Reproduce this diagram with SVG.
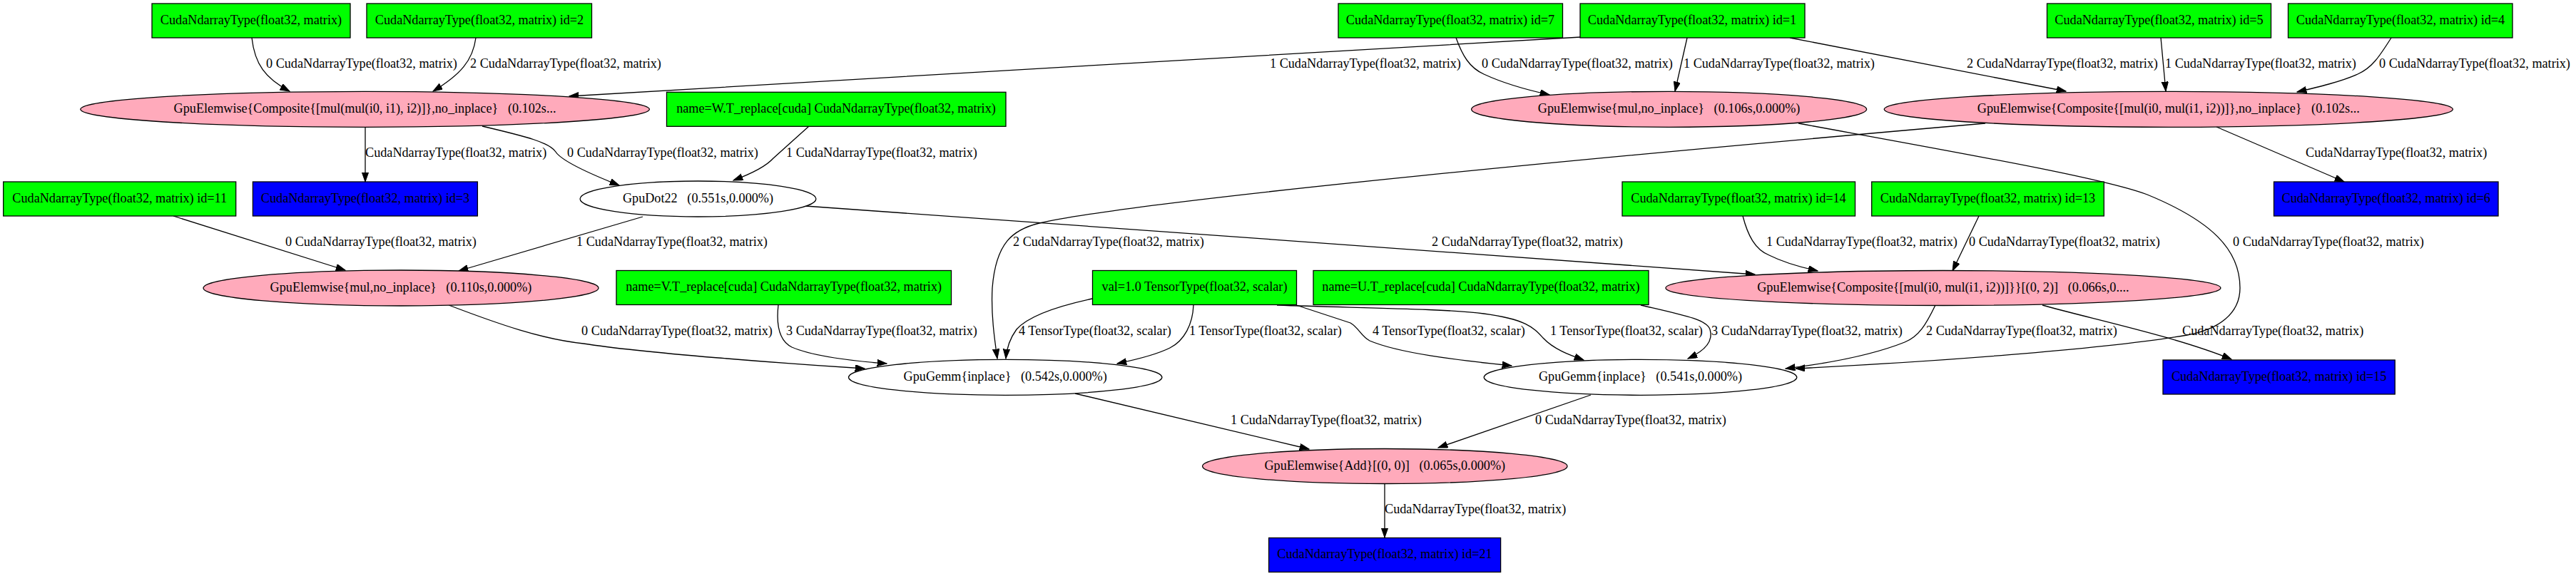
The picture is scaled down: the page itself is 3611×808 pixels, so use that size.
<svg xmlns="http://www.w3.org/2000/svg" width="3611" height="808" viewBox="0 0 3611 808">
<style>
text{font-family:"Liberation Serif","Times New Roman",serif;font-size:18.2px;fill:#000;white-space:pre}
.node text{text-anchor:middle}
.in rect{fill:#00ff00;stroke:#000;stroke-width:1.3}
.out rect{fill:#0000ff;stroke:#000;stroke-width:1.3}
.ew ellipse{fill:#ffaabb;stroke:#000;stroke-width:1.3}
.op ellipse{fill:#ffffff;stroke:#000;stroke-width:1.3}
#edges path{fill:none;stroke:#000;stroke-width:1.3;marker-end:url(#ah)}
</style>
<defs>
<marker id="ah" markerUnits="userSpaceOnUse" markerWidth="15" markerHeight="11" refX="13.3" refY="4.67" orient="auto">
<path d="M0,0 L13.3,4.67 L0,9.33 z" fill="#000" stroke="#000" stroke-width="1"/>
</marker>
</defs>
<rect width="3611" height="808" fill="#fff"/>
<g id="edges">
<g><path d="M353,53 C357,90 372,110 406,128"/><text x="373" y="95">0 CudaNdarrayType(float32, matrix)</text></g>
<g><path d="M667,53 C663,85 645,105 607,128"/><text x="659" y="95">2 CudaNdarrayType(float32, matrix)</text></g>
<g><path d="M2216,52 C1800,76 1200,111 798,135"/><text x="1780" y="95">1 CudaNdarrayType(float32, matrix)</text></g>
<g><path d="M2041,53 C2050,78 2060,95 2080,104 C2110,118 2140,126 2172,133"/><text x="2077" y="95">0 CudaNdarrayType(float32, matrix)</text></g>
<g><path d="M2365,53 L2348,128"/><text x="2360" y="95">1 CudaNdarrayType(float32, matrix)</text></g>
<g><path d="M2509,53 L2896,128"/><text x="2757" y="95">2 CudaNdarrayType(float32, matrix)</text></g>
<g><path d="M3029,53 L3036,128"/><text x="3035" y="95">1 CudaNdarrayType(float32, matrix)</text></g>
<g><path d="M3352,53 C3335,80 3325,95 3305,104 C3280,115 3250,122 3220,129"/><text x="3335" y="95">0 CudaNdarrayType(float32, matrix)</text></g>
<g><path d="M512,178 L512,255"/><text x="512" y="220">CudaNdarrayType(float32, matrix)</text></g>
<g><path d="M676,177 C740,192 770,200 779,213 C788,227 830,245 868,260"/><text x="795" y="220">0 CudaNdarrayType(float32, matrix)</text></g>
<g><path d="M1134,177 L1084,222 C1075,232 1055,243 1028,253"/><text x="1102" y="220">1 CudaNdarrayType(float32, matrix)</text></g>
<g><path d="M3107,178 L3286,255"/><text x="3232" y="220">CudaNdarrayType(float32, matrix)</text></g>
<g><path d="M243,303 L484,379"/><text x="400" y="345">0 CudaNdarrayType(float32, matrix)</text></g>
<g><path d="M901,304 L643,380"/><text x="808" y="345">1 CudaNdarrayType(float32, matrix)</text></g>
<g><path d="M2783,173 C2300,215 1600,280 1457,313 C1420,322 1396,340 1391,404 C1389,440 1394,475 1398,503"/><text x="1420" y="345">2 CudaNdarrayType(float32, matrix)</text></g>
<g><path d="M1129,289 C1500,316 2100,358 2460,385"/><text x="2007" y="345">2 CudaNdarrayType(float32, matrix)</text></g>
<g><path d="M2443,303 C2450,330 2460,350 2480,358 C2500,368 2520,374 2548,380"/><text x="2476" y="345">1 CudaNdarrayType(float32, matrix)</text></g>
<g><path d="M2774,303 L2737,380"/><text x="2760" y="345">0 CudaNdarrayType(float32, matrix)</text></g>
<g><path d="M2521,173 C2750,215 2950,250 3010,273 C3100,310 3140,350 3140,404 C3140,440 3110,462 3066,470 C2950,490 2700,508 2517,517"/><text x="3130" y="345">0 CudaNdarrayType(float32, matrix)</text></g>
<g><path d="M629,428 C700,455 760,476 818,482 C900,495 1100,510 1212,517"/><text x="815" y="470">0 CudaNdarrayType(float32, matrix)</text></g>
<g><path d="M1091,428 C1088,455 1092,478 1110,487 C1140,500 1190,506 1243,510"/><text x="1102" y="470">3 CudaNdarrayType(float32, matrix)</text></g>
<g><path d="M1531,419 C1480,430 1440,445 1425,462 C1414,477 1411,490 1410,503"/><text x="1428" y="470">4 TensorType(float32, scalar)</text></g>
<g><path d="M1673,428 C1672,455 1660,478 1640,488 C1620,498 1590,505 1566,510"/><text x="1667" y="470">1 TensorType(float32, scalar)</text></g>
<g><path d="M1817,428 L1893,453 C1905,460 1908,472 1920,478 C1960,495 2040,505 2119,513"/><text x="1924" y="470">4 TensorType(float32, scalar)</text></g>
<g><path d="M1790,428 C1900,432 2030,433 2080,440 C2140,448 2150,460 2163,474 C2178,490 2200,498 2220,505"/><text x="2173" y="470">1 TensorType(float32, scalar)</text></g>
<g><path d="M2300,428 C2360,442 2392,448 2397,462 C2402,478 2390,492 2366,503"/><text x="2399" y="470">3 CudaNdarrayType(float32, matrix)</text></g>
<g><path d="M2713,428 C2700,455 2690,472 2670,480 C2620,500 2560,510 2503,517"/><text x="2700" y="470">2 CudaNdarrayType(float32, matrix)</text></g>
<g><path d="M2863,428 C2930,447 3050,472 3128,504"/><text x="3059" y="470">CudaNdarrayType(float32, matrix)</text></g>
<g><path d="M1507,552 L1835,630"/><text x="1725" y="595">1 CudaNdarrayType(float32, matrix)</text></g>
<g><path d="M2230,554 L2016,628"/><text x="2152" y="595">0 CudaNdarrayType(float32, matrix)</text></g>
<g><path d="M1941,678 L1941,754"/><text x="1941" y="720">CudaNdarrayType(float32, matrix)</text></g>
</g>
<g id="n_a" class="node in"><rect x="213" y="5" width="278" height="48"/><text x="352" y="33.5">CudaNdarrayType(float32, matrix)</text></g>
<g id="n_id2" class="node in"><rect x="514" y="5" width="315.5" height="48"/><text x="672" y="33.5">CudaNdarrayType(float32, matrix) id=2</text></g>
<g id="n_id7" class="node in"><rect x="1876" y="5" width="314.5" height="48"/><text x="2033" y="33.5">CudaNdarrayType(float32, matrix) id=7</text></g>
<g id="n_id1" class="node in"><rect x="2215" y="5" width="315" height="48"/><text x="2372" y="33.5">CudaNdarrayType(float32, matrix) id=1</text></g>
<g id="n_id5" class="node in"><rect x="2869.5" y="5" width="314" height="48"/><text x="3026.5" y="33.5">CudaNdarrayType(float32, matrix) id=5</text></g>
<g id="n_id4" class="node in"><rect x="3207.5" y="5" width="314.5" height="48"/><text x="3365" y="33.5">CudaNdarrayType(float32, matrix) id=4</text></g>
<g id="n_e1" class="node ew"><ellipse cx="511.6" cy="153.3" rx="398.8" ry="25"/><text x="511.6" y="157.8">GpuElemwise{Composite{[mul(mul(i0, i1), i2)]},no_inplace}   (0.102s...</text></g>
<g id="n_wt" class="node in"><rect x="934.5" y="129.3" width="475.5" height="48"/><text x="1172" y="157.8">name=W.T_replace[cuda] CudaNdarrayType(float32, matrix)</text></g>
<g id="n_emul2" class="node ew"><ellipse cx="2339.6" cy="153.3" rx="277" ry="25"/><text x="2339.6" y="157.8">GpuElemwise{mul,no_inplace}   (0.106s,0.000%)</text></g>
<g id="n_c1" class="node ew"><ellipse cx="3039.8" cy="153.3" rx="398.6" ry="25"/><text x="3039.8" y="157.8">GpuElemwise{Composite{[mul(i0, mul(i1, i2))]},no_inplace}   (0.102s...</text></g>
<g id="n_id11" class="node in"><rect x="4.7" y="255" width="326" height="48"/><text x="167.7" y="283.5">CudaNdarrayType(float32, matrix) id=11</text></g>
<g id="n_id3" class="node out"><rect x="354.4" y="255" width="315" height="48"/><text x="512" y="283.5">CudaNdarrayType(float32, matrix) id=3</text></g>
<g id="n_dot" class="node op"><ellipse cx="978.5" cy="279" rx="165.4" ry="25"/><text x="978.5" y="283.5">GpuDot22   (0.551s,0.000%)</text></g>
<g id="n_id14" class="node in"><rect x="2274" y="255" width="326.5" height="48"/><text x="2437" y="283.5">CudaNdarrayType(float32, matrix) id=14</text></g>
<g id="n_id13" class="node in"><rect x="2623.7" y="255" width="325.6" height="48"/><text x="2786.5" y="283.5">CudaNdarrayType(float32, matrix) id=13</text></g>
<g id="n_id6" class="node out"><rect x="3187.5" y="255" width="314.5" height="48"/><text x="3344.7" y="283.5">CudaNdarrayType(float32, matrix) id=6</text></g>
<g id="n_emul1" class="node ew"><ellipse cx="562" cy="404" rx="277" ry="25"/><text x="562" y="408.5">GpuElemwise{mul,no_inplace}   (0.110s,0.000%)</text></g>
<g id="n_vt" class="node in"><rect x="864" y="379.5" width="469.5" height="48"/><text x="1098.6" y="408">name=V.T_replace[cuda] CudaNdarrayType(float32, matrix)</text></g>
<g id="n_val" class="node in"><rect x="1531.5" y="379.5" width="286" height="48"/><text x="1674.5" y="408">val=1.0 TensorType(float32, scalar)</text></g>
<g id="n_ut" class="node in"><rect x="1841" y="379.5" width="470" height="48"/><text x="2076" y="408">name=U.T_replace[cuda] CudaNdarrayType(float32, matrix)</text></g>
<g id="n_c2" class="node ew"><ellipse cx="2723.9" cy="404" rx="389" ry="24.5"/><text x="2723.9" y="408.5">GpuElemwise{Composite{[mul(i0, mul(i1, i2))]}}[(0, 2)]   (0.066s,0....</text></g>
<g id="n_gemm1" class="node op"><ellipse cx="1409.2" cy="529.3" rx="219.7" ry="25"/><text x="1409.2" y="533.8">GpuGemm{inplace}   (0.542s,0.000%)</text></g>
<g id="n_gemm2" class="node op"><ellipse cx="2299.5" cy="529.3" rx="219.3" ry="25"/><text x="2299.5" y="533.8">GpuGemm{inplace}   (0.541s,0.000%)</text></g>
<g id="n_id15" class="node out"><rect x="3032" y="505" width="325.2" height="48"/><text x="3194.6" y="533.5">CudaNdarrayType(float32, matrix) id=15</text></g>
<g id="n_add" class="node ew"><ellipse cx="1941.3" cy="654" rx="255.7" ry="24.5"/><text x="1941.3" y="658.5">GpuElemwise{Add}[(0, 0)]   (0.065s,0.000%)</text></g>
<g id="n_id21" class="node out"><rect x="1778.6" y="754.5" width="325" height="48"/><text x="1941" y="783">CudaNdarrayType(float32, matrix) id=21</text></g>
</svg>
